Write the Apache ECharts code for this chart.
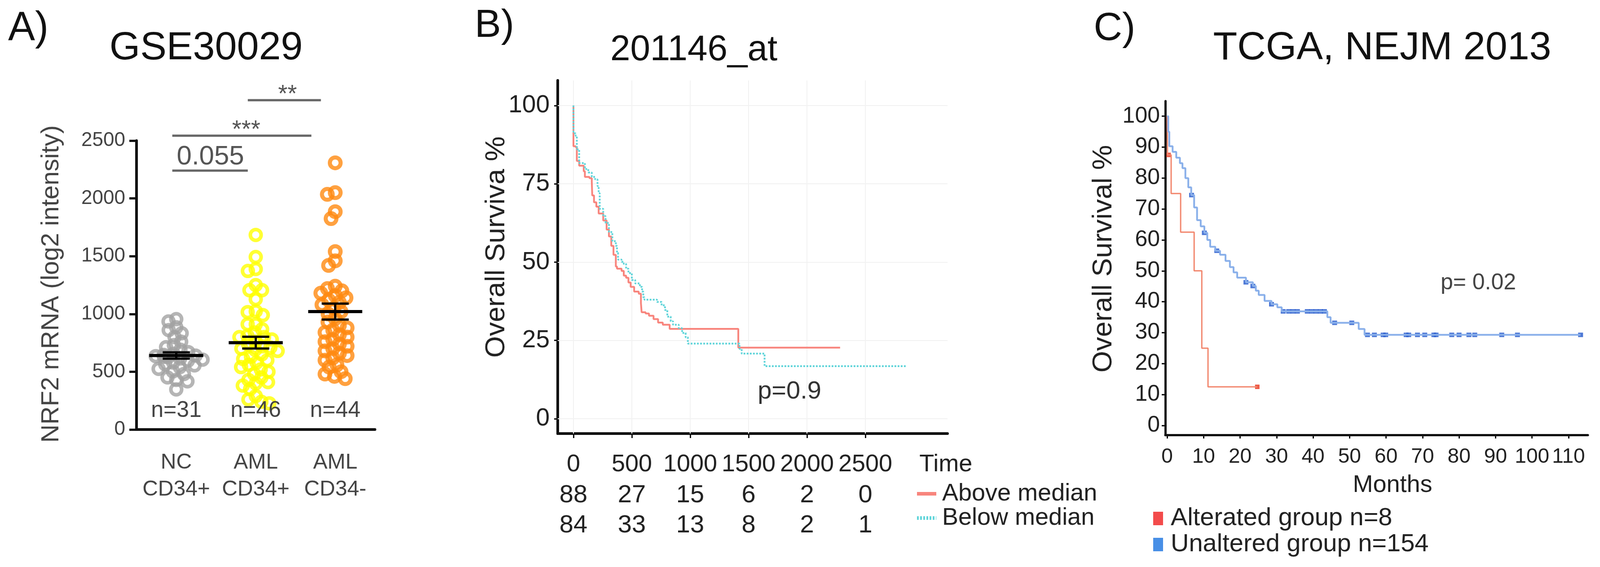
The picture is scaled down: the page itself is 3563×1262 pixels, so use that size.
<!DOCTYPE html>
<html><head><meta charset="utf-8">
<script src="https://cdn.jsdelivr.net/npm/echarts@6/dist/echarts.min.js"></script>
<style>html,body{margin:0;padding:0;background:#fff}#c{width:3563px;height:1262px}</style>
</head><body><div id="c"></div>
<script>
const FONT = '"Liberation Sans", Arial, sans-serif';

// ---------- Panel A data ----------
const groupsA = ['NC\nCD34+', 'AML\nCD34+', 'AML\nCD34-'];
const countLabelsA = ['n=31', 'n=46', 'n=44'];
const ncCD34pos = [955, 935, 885, 860, 833, 800, 760, 730, 712, 690, 670, 655, 645, 640, 635, 630, 625, 615, 605, 595, 580, 565, 555, 540, 525, 503, 480, 451, 430, 417, 347];
const amlCD34pos = [1684, 1493, 1389, 1372, 1250, 1206, 1206, 1128, 1024, 1016, 990, 911, 911, 868, 840, 810, 800, 800, 780, 760, 740, 720, 710, 700, 690, 680, 650, 630, 610, 600, 580, 560, 540, 520, 500, 480, 450, 430, 410, 400, 380, 350, 290, 260, 240, 226];
const amlCD34neg = [2308, 2050, 2035, 1885, 1825, 1540, 1460, 1420, 1240, 1220, 1200, 1180, 1160, 1140, 1120, 1100, 1080, 1050, 1020, 1000, 960, 930, 900, 880, 860, 840, 820, 800, 780, 760, 740, 720, 700, 680, 660, 640, 620, 600, 560, 540, 500, 480, 460, 440];
const yTicksA = [0, 500, 1000, 1500, 2000, 2500];
// significance brackets: line level, start/end in category units, label
const sigLevel = [2240, 2543, 2850];
const sigFrom = [-0.05, -0.05, 0.9];
const sigTo = [0.9, 1.7, 1.82];
const sigLabel = ['0.055', '***', '**'];
const sigLabelAt = [0.43, 0.88, 1.4];

// ---------- Panel B data ----------
const aboveMedian = [[0,100],[0,87],[19,86.7],[29,82.3],[49,80.8],[88,79],[98,77.2],[137,76.8],[157,75.7],[161,71.3],[176,69.1],[196,67.7],[216,65.5],[255,63.3],[284,60.4],[304,58.2],[324,55.2],[343,52.3],[363,48.6],[373,47.9],[412,47.2],[431,45.7],[451,45],[471,43.5],[490,42.1],[520,40.6],[559,39.9],[578,36.9],[584,34],[618,33.6],[647,32.9],[686,31.8],[725,30.7],[765,30],[824,28.7],[1412,22.7],[2284,22.7]];
const belowMedian = [[0,100],[0,91.1],[19,90.3],[29,86],[49,81.6],[98,79.7],[127,78.6],[157,77.2],[186,76.4],[206,74.3],[216,72],[225,67],[255,64.7],[275,62.5],[304,59.6],[333,56.7],[363,55.2],[373,53],[382,50.8],[412,50.1],[431,49.4],[451,47.9],[471,46.5],[500,44.3],[529,43.2],[569,42.1],[588,40.6],[598,38.8],[608,38],[716,37.3],[755,36.2],[784,34.7],[804,32.6],[833,31.1],[853,30],[902,28.9],[931,27.4],[961,26],[980,24],[1422,22.3],[1441,20.8],[1637,16.8],[2854,16.8]];
const riskTimes = [0, 500, 1000, 1500, 2000, 2500];
const riskAbove = [88, 27, 15, 6, 2, 0];
const riskBelow = [84, 33, 13, 8, 2, 1];
const xTicksB = [0, 500, 1000, 1500, 2000, 2500];
const yTicksB = [0, 25, 50, 75, 100];

// ---------- Panel C data ----------
const alterated = [[0,100],[0.1,87.5],[1.1,75],[3.7,62.5],[7.4,50],[9.5,25],[11.2,12.5],[24.7,12.5]];
const alteratedCensor = [0.4, 24.7];
const unaltered = [[0,100],[0.3,95],[0.6,90.3],[1.5,88.5],[2.5,86.6],[3.5,84.8],[4.2,83.2],[5,80],[5.8,77],[6.6,74.5],[7.4,70.5],[8.2,66.4],[9.2,64.4],[10.2,62.3],[11,60],[11.8,57.8],[13.2,56.5],[14.5,55.2],[16,53.2],[17.2,51.2],[18.2,49.5],[19.2,47.8],[21.6,46.3],[23.5,45.1],[24.3,43.6],[25.1,42.2],[26.7,40.3],[28.6,39.2],[30.2,38.2],[31.4,36.9],[43.9,35],[44.8,33.2],[52.5,31.2],[54.1,29.3],[113.3,29.3]];
const unalteredCensor = [6.7,10.2,13.6,21.6,23.5,28.6,31.8,33.3,34.5,35.7,38.4,39.6,40.8,42,43.1,45.9,50.6,54.9,56.8,59.2,59.9,65.5,66.2,68.6,70.6,73.1,73.7,78,80,82.7,84.3,91.7,96,113.3];
const xTicksC = [0, 10, 20, 30, 40, 50, 60, 70, 80, 90, 100, 110];
const yTicksC = [0, 10, 20, 30, 40, 50, 60, 70, 80, 90, 100];

// ---------- helpers ----------
function meanSem(arr) {
  const n = arr.length, m = arr.reduce((a, b) => a + b, 0) / n;
  const sd = Math.sqrt(arr.reduce((a, b) => a + (b - m) * (b - m), 0) / (n - 1));
  return [m, sd / Math.sqrt(n)];
}
function survAt(curve, t) {
  let s = curve[0][1];
  for (const p of curve) { if (p[0] <= t) s = p[1]; }
  return s;
}
const groupsData = [ncCD34pos, amlCD34pos, amlCD34neg];
const statsA = groupsData.map((g, i) => { const ms = meanSem(g); return [i, ms[0], ms[1]]; });

const chart = echarts.init(document.getElementById('c'), null, { renderer: 'canvas' });

function txt(text, x, y, size, color, rot) {
  return { type: 'text', x: x, y: y, rotation: rot || 0, z: 50,
    style: { text: text, fontSize: size, fontFamily: FONT, fill: color || '#111', align: 'center', verticalAlign: 'middle' } };
}

const axisLineBlack = { show: true, onZero: false, lineStyle: { color: '#111', width: 6 } };
const axisLineC = { show: true, onZero: false, lineStyle: { color: '#111', width: 5 } };

const option = {
  backgroundColor: '#fff',
  animation: false,
  textStyle: { fontFamily: FONT },
  grid: [
    { left: 304, top: 313, width: 531, height: 643 },
    { left: 1242, top: 179, width: 868, height: 786 },
    { left: 2595, top: 225, width: 941, height: 743 }
  ],
  xAxis: [
    { type: 'category', gridIndex: 0, data: groupsA, boundaryGap: true,
      jitter: 118, jitterOverlap: false, jitterMargin: -6,
      axisLine: axisLineBlack, axisTick: { alignWithLabel: true, length: 18, lineStyle: { color: '#111', width: 5 } },
      axisLabel: { interval: 0, fontSize: 48, color: '#444', lineHeight: 60, margin: 44, fontFamily: FONT },
      splitLine: { show: false } },
    { type: 'value', gridIndex: 1, min: -134.6, max: 3204,
      axisLine: axisLineBlack,
      axisTick: { customValues: xTicksB, length: 10, lineStyle: { color: '#111', width: 3 } },
      axisLabel: { customValues: xTicksB.concat([3190]), formatter: v => (v === 3190 ? 'Time' : String(v)), fontSize: 54, color: '#222', margin: 42, fontFamily: FONT, showMaxLabel: true, hideOverlap: false },
      splitLine: { show: false } },
    { type: 'value', gridIndex: 2, min: -0.5, max: 115.3,
      axisLine: axisLineC,
      axisTick: { customValues: xTicksC, length: 8, lineStyle: { color: '#111', width: 3 } },
      axisLabel: { customValues: xTicksC, fontSize: 46, color: '#222', margin: 26, fontFamily: FONT, showMaxLabel: true, showMinLabel: true, hideOverlap: false },
      splitLine: { show: false } }
  ],
  yAxis: [
    { type: 'value', gridIndex: 0, min: 0, max: 2500, interval: 500,
      axisLine: axisLineBlack, axisTick: { show: true, length: 16, lineStyle: { color: '#111', width: 5 } },
      axisLabel: { fontSize: 44, color: '#444', margin: 25, fontFamily: FONT, formatter: v => String(v) },
      splitLine: { show: false } },
    { type: 'value', gridIndex: 1, min: -4.73, max: 108,
      axisLine: axisLineBlack,
      axisTick: { show: true, customValues: yTicksB, length: 8, lineStyle: { color: '#111', width: 3 } },
      axisLabel: { customValues: yTicksB, fontSize: 55, color: '#222', margin: 18, fontFamily: FONT },
      splitLine: { show: false } },
    { type: 'value', gridIndex: 2, min: -3.05, max: 104.9,
      axisLine: axisLineC,
      axisTick: { show: true, customValues: yTicksC, length: 8, lineStyle: { color: '#111', width: 3 } },
      axisLabel: { customValues: yTicksC, fontSize: 50, color: '#222', margin: 12, fontFamily: FONT, showMaxLabel: true },
      splitLine: { show: false } }
  ],
  legend: [
    { data: [
        { name: 'Above median', itemStyle: { opacity: 0 } },
        { name: 'Below median', itemStyle: { opacity: 0 } }
      ], orient: 'vertical', left: 2038, top: 1072, padding: 0,
      itemWidth: 43, itemHeight: 14, itemGap: 0, selectedMode: false,
      lineStyle: { width: 8 },
      textStyle: { fontSize: 54, lineHeight: 52, color: '#222', fontFamily: FONT, padding: [0, 0, 0, 8] } },
    { data: [
        { name: 'Alterated group n=8', icon: 'rect', itemStyle: { color: '#f01e1e' } },
        { name: 'Unaltered group n=154', icon: 'rect', itemStyle: { color: '#1a73e0' } }
      ], orient: 'vertical', left: 2568, top: 1126, padding: 0,
      itemWidth: 22, itemHeight: 30, itemGap: 2, selectedMode: false,
      textStyle: { fontSize: 56, lineHeight: 56, color: '#222', fontFamily: FONT, padding: [0, 0, 0, 12] } }
  ],
  series: [
    // Panel A scatter
    { type: 'scatter', name: 'NC CD34+', xAxisIndex: 0, yAxisIndex: 0, symbol: 'circle', symbolSize: 24,
      data: ncCD34pos.map(v => [0, v]), itemStyle: { color: 'rgba(255,255,255,0)', borderColor: '#a3a3a3', borderWidth: 8 } },
    { type: 'scatter', name: 'AML CD34+', xAxisIndex: 0, yAxisIndex: 0, symbol: 'circle', symbolSize: 24,
      data: amlCD34pos.map(v => [1, v]), itemStyle: { color: 'rgba(255,255,255,0)', borderColor: '#ffff00', borderWidth: 8 } },
    { type: 'scatter', name: 'AML CD34-', xAxisIndex: 0, yAxisIndex: 0, symbol: 'circle', symbolSize: 24,
      data: amlCD34neg.map(v => [2, v]), itemStyle: { color: 'rgba(255,255,255,0)', borderColor: '#ff8a10', borderWidth: 9 } },
    // mean +/- SEM
    { type: 'custom', name: 'mean', xAxisIndex: 0, yAxisIndex: 0, z: 10, data: statsA, encode: { x: 0, y: 1 },
      renderItem: function (params, api) {
        const c = api.value(0), m = api.value(1), s = api.value(2);
        const p = api.coord([c, m]), hi = api.coord([c, m + s]), lo = api.coord([c, m - s]);
        const bw = api.size([1, 0])[0];
        const half = bw * 0.34, cap = bw * 0.17;
        const st = { stroke: '#000', lineWidth: 5 };
        return { type: 'group', children: [
          { type: 'line', shape: { x1: p[0] - half, y1: p[1], x2: p[0] + half, y2: p[1] }, style: { stroke: '#000', lineWidth: 7 } },
          { type: 'line', shape: { x1: p[0], y1: hi[1], x2: p[0], y2: lo[1] }, style: st },
          { type: 'line', shape: { x1: p[0] - cap, y1: hi[1], x2: p[0] + cap, y2: hi[1] }, style: st },
          { type: 'line', shape: { x1: p[0] - cap, y1: lo[1], x2: p[0] + cap, y2: lo[1] }, style: st }
        ] };
      } },
    // significance brackets
    { type: 'custom', name: 'sig', xAxisIndex: 0, yAxisIndex: 0, clip: false, z: 10,
      data: sigLevel.map(v => [0, v]),
      renderItem: function (params, api) {
        const i = params.dataIndex;
        const base = api.coord([0, sigLevel[i]]);
        const bw = api.size([1, 0])[0];
        const x1 = base[0] + sigFrom[i] * bw, x2 = base[0] + sigTo[i] * bw, xl = base[0] + sigLabelAt[i] * bw;
        const isNum = sigLabel[i] === '0.055';
        return { type: 'group', children: [
          { type: 'line', shape: { x1: x1, y1: base[1], x2: x2, y2: base[1] }, style: { stroke: '#666', lineWidth: 5 } },
          { type: 'text', x: xl, y: base[1] - (isNum ? 30 : 12),
            style: { text: sigLabel[i], fontSize: isNum ? 60 : 54, fontFamily: FONT, fill: '#555', align: 'center', verticalAlign: 'middle' } }
        ] };
      } },
    // n labels
    { type: 'custom', name: 'counts', xAxisIndex: 0, yAxisIndex: 0, clip: false, z: 11,
      data: countLabelsA.map((t, i) => [i, 0]),
      renderItem: function (params, api) {
        const p = api.coord([api.value(0), 0]);
        return { type: 'text', x: p[0], y: p[1] - 42,
          style: { text: countLabelsA[params.dataIndex], fontSize: 50, fontFamily: FONT, fill: '#444', align: 'center', verticalAlign: 'middle' } };
      } },

    // Panel B
    { type: 'line', name: 'Above median', xAxisIndex: 1, yAxisIndex: 1, step: 'end', symbol: 'none', z: 3,
      data: aboveMedian, lineStyle: { color: '#f8857d', width: 4 }, itemStyle: { color: '#f8857d' },
      markLine: { silent: true, symbol: 'none', label: { show: false }, z: 1,
        lineStyle: { color: '#f2f2f2', width: 2, type: 'solid' },
        data: xTicksB.map(v => ({ xAxis: v })).concat(yTicksB.map(v => ({ yAxis: v }))) } },
    { type: 'line', name: 'Below median', xAxisIndex: 1, yAxisIndex: 1, step: 'end', symbol: 'none', z: 4,
      data: belowMedian, lineStyle: { color: '#62d5da', width: 4, type: [4, 3] }, itemStyle: { color: '#62d5da' } },
    { type: 'custom', name: 'risk', xAxisIndex: 1, yAxisIndex: 1, clip: false,
      data: riskTimes.map(t => [t, 0]),
      renderItem: function (params, api) {
        const i = params.dataIndex;
        const p = api.coord([riskTimes[i], 0]);
        const ts = { fontSize: 56, fontFamily: FONT, fill: '#222', align: 'center', verticalAlign: 'middle' };
        return { type: 'group', children: [
          { type: 'text', x: p[0], y: p[1] + 171, style: Object.assign({ text: String(riskAbove[i]) }, ts) },
          { type: 'text', x: p[0], y: p[1] + 238, style: Object.assign({ text: String(riskBelow[i]) }, ts) }
        ] };
      } },

    // Panel C
    { type: 'line', name: 'Alterated curve', xAxisIndex: 2, yAxisIndex: 2, step: 'end', symbol: 'none',
      data: alterated, lineStyle: { color: '#f2876e', width: 3 } },
    { type: 'scatter', name: 'Alterated group n=8', xAxisIndex: 2, yAxisIndex: 2, symbol: 'rect', symbolSize: [10, 10],
      data: alteratedCensor.map(t => [t, survAt(alterated, t)]), itemStyle: { color: '#e8331c' } },
    { type: 'line', name: 'Unaltered curve', xAxisIndex: 2, yAxisIndex: 2, step: 'end', symbol: 'none',
      data: unaltered, lineStyle: { color: '#8ab0ea', width: 4 } },
    { type: 'scatter', name: 'Unaltered group n=154', xAxisIndex: 2, yAxisIndex: 2, symbol: 'rect', symbolSize: [11, 10],
      data: unalteredCensor.map(t => [t, survAt(unaltered, t)]), itemStyle: { color: '#2156cc' } }
  ],
  graphic: [
    txt('A)', 63, 64, 90, '#111'),
    txt('GSE30029', 459, 108, 88, '#111'),
    txt('NRF2 mRNA (log2 intensity)', 115, 632, 56, '#444', Math.PI / 2),
    txt('B)', 1101, 58, 88, '#111'),
    txt('201146_at', 1545, 112, 80, '#111'),
    txt('Overall Surviva %', 1106, 550, 62, '#222', Math.PI / 2),
    txt('p=0.9', 1758, 872, 56, '#333'),
    txt('C)', 2482, 65, 88, '#111'),
    txt('TCGA, NEJM 2013', 3078, 108, 88, '#111'),
    txt('Overall Survival %', 2458, 576, 62, '#222', Math.PI / 2),
    txt('p= 0.02', 3292, 630, 50, '#444'),
    txt('Months', 3101, 1080, 54, '#222')
  ]
};
chart.setOption(option);
</script>
</body></html>
